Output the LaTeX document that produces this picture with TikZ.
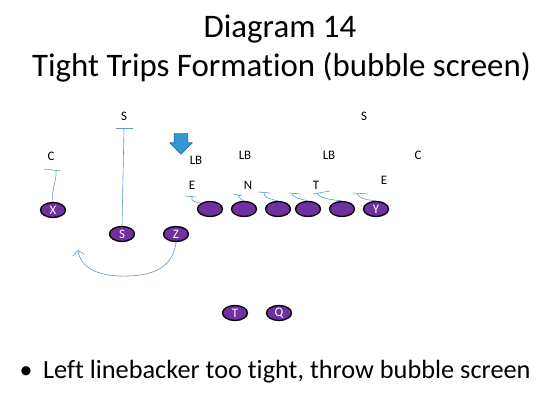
\documentclass[tikz,border=0pt]{standalone}
\usepackage{fontspec}
\setmainfont{Carlito}[Ligatures=NoCommon]
\usepackage{tikz}
\usetikzlibrary{arrows.meta,shapes}

\definecolor{playerfill}{RGB}{112,48,160}
\definecolor{routecol}{RGB}{95,150,205}
\definecolor{blitzfill}{RGB}{52,150,210}
\definecolor{blitzline}{RGB}{40,100,160}

\tikzset{
  player/.style={draw=black,line width=1.3bp,fill=playerfill,ellipse,minimum width=25bp,minimum height=15bp,inner sep=0pt,text=white,font=\fontsize{13}{13}\selectfont},
  defender/.style={inner sep=0pt,font=\fontsize{13}{13}\selectfont},
  route/.style={draw=routecol,line width=0.6bp},
}

\begin{document}
\begin{tikzpicture}[>={Straight Barb[length=5bp,width=12bp]},line join=bevel,]
		\useasboundingbox (0bp,0bp) rectangle (552bp,400bp);
		%%
		\node (title) at (280bp,362bp) [anchor=base,font=\fontsize{33}{33}\selectfont] {Diagram 14};
		  \node (subtitle) at (281.5bp,323bp) [anchor=base,font=\fontsize{33}{33}\selectfont] {Tight Trips Formation (bubble screen)};
		  \node (dot) at (26bp,22bp) [anchor=base,font=\fontsize{26}{26}\selectfont] {•};
		  \node (note) at (43bp,22bp) [anchor=base west,inner sep=0pt,font=\fontsize{26.4}{26.4}\selectfont] {Left linebacker too tight, throw bubble screen};
		%% offense
		  \node (x) at (53bp,190bp) [player] {X};
		  \node (s) at (122bp,166bp) [player] {S};
		  \node (z) at (176bp,166bp) [player] {Z};
		  \node (ol1) at (210bp,191bp) [player] {};
		  \node (ol2) at (244bp,191bp) [player] {};
		  \node (ol3) at (278bp,191bp) [player] {};
		  \node (ol4) at (308bp,191bp) [player] {};
		  \node (ol5) at (342bp,191bp) [player] {};
		  \node (y) at (376bp,191bp) [player] {Y};
		  \node (t) at (235bp,87bp) [player] {T};
		  \node (q) at (279bp,87bp) [player] {Q};
		%% defense
		  \node (ss) at (124bp,284bp) [defender] {S};
		  \node (fs) at (364bp,284bp) [defender] {S};
		  \node (lc) at (51bp,244bp) [defender] {C};
		  \node (rc) at (418bp,245bp) [defender] {C};
		  \node (llb) at (196bp,240bp) [defender] {LB};
		  \node (mlb) at (245bp,245bp) [defender] {LB};
		  \node (rlb) at (329bp,245bp) [defender] {LB};
		  \node (le) at (192bp,215bp) [defender] {E};
		  \node (nt) at (248bp,215bp) [defender] {N};
		  \node (dt) at (316bp,215bp) [defender] {T};
		  \node (re) at (384bp,220bp) [defender] {E};
		  \node (blitz) at (181bp,259.5bp) [single arrow,shape border rotate=270,fill=blitzfill,draw=blitzline,line width=0.6bp,minimum height=19bp,minimum width=22bp,single arrow head extend=4.5bp,inner sep=6.5bp] {};
		%% routes
		  \coordinate (xend) at (56bp,229bp);
		  \coordinate (send) at (124bp,272bp);
		  \coordinate (zend) at (78bp,150bp);
		  \draw [route] (x.north) ..controls (51bp,210bp) and (57bp,220bp)  .. (xend);
		  \draw [route] (44bp,231bp) -- (61bp,229bp);
		  \draw [route] (s.north) -- (send);
		  \draw [route] (116bp,272bp) -- (133bp,272bp);
		  \draw [route,->] (z.south) ..controls (173bp,132bp) and (152bp,123bp)  .. (120bp,124bp) .. controls (94bp,125bp) and (80bp,134bp)  .. (zend);
		%% blocks
		  \coordinate (b1) at (192bp,203bp);
		  \coordinate (b2) at (238bp,205bp);
		  \coordinate (b3) at (264bp,207bp);
		  \coordinate (b4) at (292bp,206bp);
		  \coordinate (b5) at (317bp,207bp);
		  \coordinate (b6) at (357bp,206bp);
		  \draw [route] (ol1.north west) ..controls (196bp,198bp) and (190bp,199bp)  .. (b1);
		  \draw [route] (185bp,204bp) -- (196bp,203bp);
		  \draw [route] (ol2.north) ..controls (242bp,200bp) and (240bp,201bp)  .. (b2);
		  \draw [route] (233bp,206bp) -- (242bp,204bp);
		  \draw [route] (ol3.north) ..controls (270bp,201bp) and (264bp,202bp)  .. (b3);
		  \draw [route] (258bp,208bp) -- (270bp,207bp);
		  \draw [route] (ol4.north) ..controls (300bp,201bp) and (294bp,202bp)  .. (b4);
		  \draw [route] (289bp,207bp) -- (301bp,206bp);
		  \draw [route] (ol5.north) ..controls (334bp,200bp) and (320bp,201bp)  .. (b5);
		  \draw [route] (313bp,206bp) -- (330bp,209bp);
		  \draw [route] (y.north) ..controls (368bp,200bp) and (360bp,201bp)  .. (b6);
		  \draw [route] (353bp,207bp) -- (368bp,206bp);
		%
	\end{tikzpicture}
\end{document}
